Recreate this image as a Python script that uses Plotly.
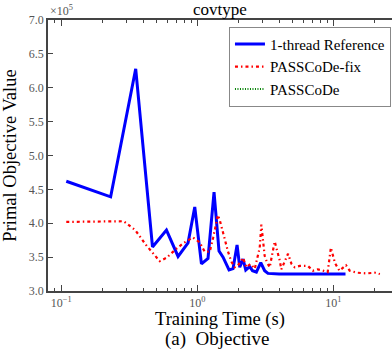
import numpy as np
import plotly.graph_objects as go

# 1-thread Reference (time in s, objective in 1e5)
ref_t = [0.109, 0.231, 0.353, 0.469, 0.594, 0.723, 0.856, 0.959, 1.074, 1.20, 1.329, 1.446, 1.548,
         1.713, 1.833, 1.962, 2.054, 2.172, 2.274, 2.43, 2.547, 2.72, 2.93, 3.13, 3.31, 4.0, 5.0,
         7.0, 9.0, 12.3]
ref_v = [4.62, 4.39, 6.28, 3.65, 3.90, 3.51, 3.71, 4.24, 3.40, 3.48, 4.46, 3.59, 3.50,
         3.31, 3.33, 3.68, 3.35, 3.47, 3.31, 3.36, 3.30, 3.28, 3.42, 3.30, 3.26, 3.25, 3.25,
         3.25, 3.25, 3.25]

# PASSCoDe-fix
fix_t = [0.109, 0.20, 0.288, 0.35, 0.42, 0.53, 0.594, 0.70, 0.796, 0.93, 1.04, 1.135, 1.236, 1.31,
         1.42, 1.463, 1.53, 1.593, 1.684, 1.785, 1.887, 1.995, 2.17, 2.30, 2.46, 2.65, 2.88,
         2.96, 3.05, 3.13, 3.26, 3.41, 3.71, 3.86, 4.04, 4.15, 4.65, 4.93, 5.2, 5.67, 6.5,
         7.1, 7.7, 8.4, 9.1, 9.6, 10.3, 11.1, 12.4, 13.2, 15.0, 17.5, 20.2, 22.0]
fix_v = [4.02, 4.03, 4.03, 3.90, 3.68, 3.44, 3.49, 3.62, 3.71, 3.79, 3.72, 3.58, 3.58, 3.79,
         4.12, 4.05, 3.89, 3.74, 3.58, 3.43, 3.35, 3.38, 3.49, 3.35, 3.40, 3.33, 3.64,
         3.98, 3.76, 3.52, 3.42, 3.35, 3.73, 3.61, 3.45, 3.32, 3.55, 3.40, 3.35, 3.37, 3.37,
         3.30, 3.32, 3.30, 3.28, 3.64, 3.41, 3.30, 3.38, 3.30, 3.27, 3.26, 3.27, 3.25]

# PASSCoDe (no visible points within the plotted range)
pc_t = [None]
pc_v = [None]

series_names = ["1-thread Reference", "PASSCoDe-fix", "PASSCoDe"]

x_major = [0.1, 1, 10]
x_major_text = ["10<sup>−1</sup>", "10<sup>0</sup>", "10<sup>1</sup>"]
x_minor = [m * d for d in [0.01, 0.1, 1, 10] for m in range(2, 10)]
y_ticks = [3.0, 3.5, 4.0, 4.5, 5.0, 5.5, 6.0, 6.5, 7.0]

FONT = "Liberation Serif"

fig = go.Figure()
fig.add_trace(go.Scatter(x=ref_t, y=ref_v, mode="lines", name=series_names[0],
                         line=dict(color="#0000ff", width=3)))
fig.add_trace(go.Scatter(x=fix_t, y=fix_v, mode="lines", name=series_names[1],
                         line=dict(color="#ff0000", width=2.2, dash="3px,3px,1.5px,3px")))
fig.add_trace(go.Scatter(x=pc_t, y=pc_v, mode="lines", name=series_names[2],
                         line=dict(color="#008000", width=2, dash="1px,1.5px")))
# invisible traces to activate overlay axes
for ax in ["x2", "x3", "x4"]:
    fig.add_trace(go.Scatter(x=[1], y=[5], xaxis=ax, mode="markers", marker=dict(opacity=0),
                             showlegend=False, hoverinfo="skip"))

xr = [np.log10(0.08), 1.4316]
axcol = "#444444"
base = dict(type="log", range=xr, showgrid=False, zeroline=False,
            ticks="inside", tickwidth=1, tickcolor=axcol)
fig.update_layout(
    width=392, height=352,
    margin=dict(l=48, r=0, t=20, b=61),
    paper_bgcolor="white", plot_bgcolor="white",
    font=dict(family=FONT, color="black"),
    xaxis=dict(**base, showline=True, linecolor=axcol, linewidth=1.5, ticklen=6,
               tickvals=x_major, ticktext=x_major_text,
               tickfont=dict(size=12, color="#555555")),
    xaxis2=dict(**base, overlaying="x", side="top", showline=True, linecolor=axcol,
                linewidth=1.5, ticklen=6, tickvals=x_major, showticklabels=False),
    xaxis3=dict(**base, overlaying="x", side="bottom", showline=False, ticklen=3,
                tickvals=x_minor, showticklabels=False),
    xaxis4=dict(**base, overlaying="x", side="top", showline=False, ticklen=3,
                tickvals=x_minor, showticklabels=False),
    yaxis=dict(range=[3.0, 7.0], tickvals=y_ticks,
               tickformat=".1f", showgrid=False, zeroline=False, showline=True,
               linecolor=axcol, linewidth=1.5, ticks="inside", ticklen=5, tickcolor=axcol,
               tickfont=dict(size=12, color="#555555"),
               title=dict(text="Primal Objective Value", font=dict(size=18.5), standoff=7)),
    legend=dict(x=0.997, y=0.975, xanchor="right", yanchor="top",
                bgcolor="white", bordercolor="#888888", borderwidth=1,
                font=dict(size=15), tracegroupgap=0, itemwidth=30),
    showlegend=True,
)
fig.add_annotation(text="covtype", x=0.5, y=1.0, xref="paper", yref="paper",
                   xanchor="center", yanchor="bottom", yshift=-1, showarrow=False,
                   font=dict(size=17))
fig.add_annotation(text="×10<sup>5</sup>", x=0, y=1.0, xref="paper", yref="paper",
                   xanchor="left", yanchor="bottom", showarrow=False,
                   font=dict(size=12, color="#555555"))
fig.add_annotation(text="Training Time (s)", x=0.5, y=0, xref="paper", yref="paper",
                   xanchor="center", yanchor="middle", yshift=-28.5, showarrow=False,
                   font=dict(size=18.5))
fig.add_annotation(text="(a)  Objective", x=0.49, y=0, xref="paper", yref="paper",
                   xanchor="center", yanchor="middle", yshift=-47.5, showarrow=False,
                   font=dict(size=19))
fig.write_html("out.html")
